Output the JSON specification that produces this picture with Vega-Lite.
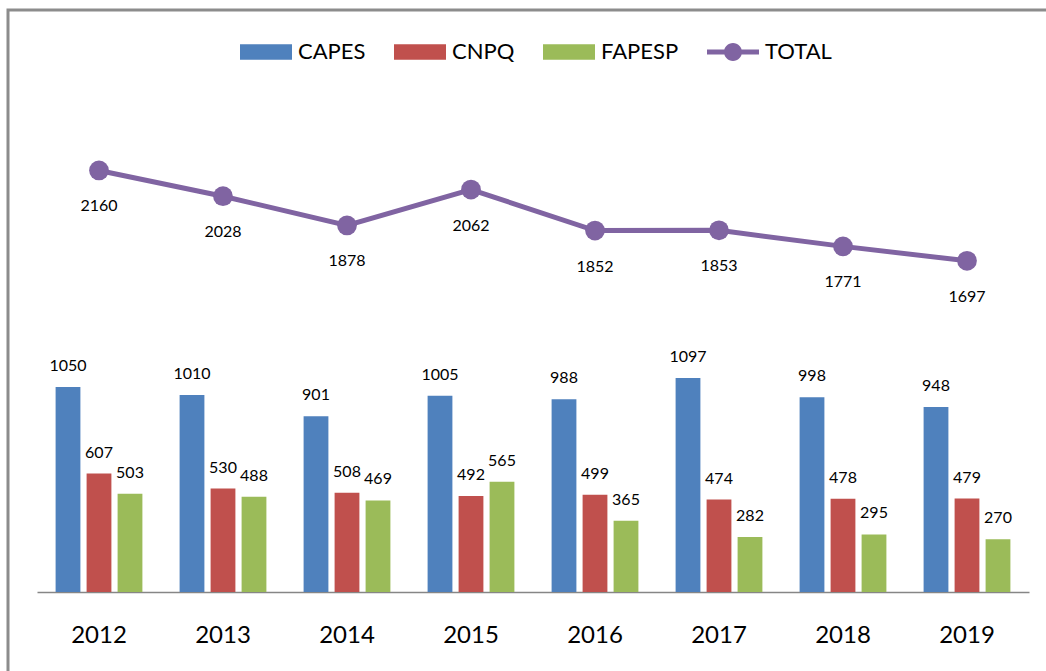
{
  "$schema": "https://vega.github.io/schema/vega-lite/v6.json",
  "autosize": {"type": "none"},
  "width": 1050,
  "height": 680,
  "padding": {"left": 8, "top": 10, "right": -12, "bottom": -19},
  "background": "white",
  "config": {
    "view": {"stroke": "#8c8c8c", "strokeWidth": 3},
    "font": "Lato"
  },
  "data": {
    "values": [
      {"year": "2012", "series": "CAPES", "value": 1050},
      {"year": "2013", "series": "CAPES", "value": 1010},
      {"year": "2014", "series": "CAPES", "value": 901},
      {"year": "2015", "series": "CAPES", "value": 1005},
      {"year": "2016", "series": "CAPES", "value": 988},
      {"year": "2017", "series": "CAPES", "value": 1097},
      {"year": "2018", "series": "CAPES", "value": 998},
      {"year": "2019", "series": "CAPES", "value": 948},
      {"year": "2012", "series": "CNPQ", "value": 607},
      {"year": "2013", "series": "CNPQ", "value": 530},
      {"year": "2014", "series": "CNPQ", "value": 508},
      {"year": "2015", "series": "CNPQ", "value": 492},
      {"year": "2016", "series": "CNPQ", "value": 499},
      {"year": "2017", "series": "CNPQ", "value": 474},
      {"year": "2018", "series": "CNPQ", "value": 478},
      {"year": "2019", "series": "CNPQ", "value": 479},
      {"year": "2012", "series": "FAPESP", "value": 503},
      {"year": "2013", "series": "FAPESP", "value": 488},
      {"year": "2014", "series": "FAPESP", "value": 469},
      {"year": "2015", "series": "FAPESP", "value": 565},
      {"year": "2016", "series": "FAPESP", "value": 365},
      {"year": "2017", "series": "FAPESP", "value": 282},
      {"year": "2018", "series": "FAPESP", "value": 295},
      {"year": "2019", "series": "FAPESP", "value": 270},
      {"year": "2012", "series": "TOTAL", "value": 2160},
      {"year": "2013", "series": "TOTAL", "value": 2028},
      {"year": "2014", "series": "TOTAL", "value": 1878},
      {"year": "2015", "series": "TOTAL", "value": 2062},
      {"year": "2016", "series": "TOTAL", "value": 1852},
      {"year": "2017", "series": "TOTAL", "value": 1853},
      {"year": "2018", "series": "TOTAL", "value": 1771},
      {"year": "2019", "series": "TOTAL", "value": 1697}
    ]
  },
  "encoding": {
    "x": {
      "field": "year",
      "type": "nominal",
      "scale": {"range": [29, 1021], "paddingInner": 0, "paddingOuter": 0},
      "axis": {
        "title": null,
        "orient": "bottom",
        "offset": -98,
        "labelAngle": 0,
        "ticks": false,
        "grid": false,
        "domainColor": "#868686",
        "domainWidth": 1.5,
        "labelFont": "Lato",
        "labelFontSize": 24,
        "labelColor": "black",
        "labelBaseline": "alphabetic",
        "labelPadding": 50
      }
    },
    "y": {
      "field": "value",
      "type": "quantitative",
      "scale": {"domain": [-502, 2982], "zero": false, "nice": false},
      "axis": null
    }
  },
  "layer": [
    {
      "transform": [{"filter": "datum.series !== 'TOTAL'"}],
      "mark": {"type": "bar"},
      "encoding": {
        "y2": {"datum": 0},
        "xOffset": {
          "field": "series",
          "type": "nominal",
          "scale": {"domain": ["CAPES", "CNPQ", "FAPESP"], "paddingInner": 0.2, "paddingOuter": 0.6}
        },
        "color": {
          "field": "series",
          "type": "nominal",
          "scale": {
            "domain": ["CAPES", "CNPQ", "FAPESP", "TOTAL"],
            "range": ["#4F81BD", "#C0504D", "#9BBB59", "#8064A2"]
          },
          "legend": {
            "title": null,
            "orient": "none",
            "direction": "horizontal",
            "legendX": 232,
            "legendY": 16,
            "padding": 0,
            "symbolSize": 2704,
            "symbolStrokeWidth": 0,
            "labelFont": "Lato",
            "labelFontSize": 22,
            "labelColor": "black",
            "labelOffset": 6,
            "columnPadding": 28,
            "encode": {
              "symbols": {
                "update": {
                  "shape": [
                    {"test": "datum.value === 'TOTAL'", "value": "M-1,-0.096H-0.33V0.096H-1Z M0.33,-0.096H1V0.096H0.33Z M0.346,0A0.346,0.346 0 1,1 -0.346,0A0.346,0.346 0 1,1 0.346,0Z"},
                    {"value": "M-1,-0.3H1V0.3H-1Z"}
                  ],
                  "fill": {"scale": "color", "field": "value"},
                  "stroke": {"value": "transparent"},
                  "opacity": {"value": 1}
                }
              }
            }
          }
        }
      }
    },
    {
      "transform": [{"filter": "datum.series !== 'TOTAL'"}],
      "mark": {"type": "text", "baseline": "alphabetic", "dy": -16, "font": "Lato", "fontSize": 16, "color": "black"},
      "encoding": {
        "xOffset": {
          "field": "series",
          "type": "nominal",
          "scale": {"domain": ["CAPES", "CNPQ", "FAPESP"], "paddingInner": 0.2, "paddingOuter": 0.6}
        },
        "text": {"field": "value", "type": "quantitative"}
      }
    },
    {
      "transform": [{"filter": "datum.series === 'TOTAL'"}],
      "mark": {"type": "line", "strokeWidth": 5, "color": "#8064A2"},
      "encoding": {}
    },
    {
      "transform": [{"filter": "datum.series === 'TOTAL'"}],
      "mark": {"type": "point", "filled": true, "size": 390, "opacity": 1, "color": "#8064A2"},
      "encoding": {}
    },
    {
      "transform": [{"filter": "datum.series === 'TOTAL'"}],
      "mark": {"type": "text", "baseline": "alphabetic", "dy": 41, "font": "Lato", "fontSize": 16, "color": "black"},
      "encoding": {
        "text": {"field": "value", "type": "quantitative"}
      }
    }
  ]
}
